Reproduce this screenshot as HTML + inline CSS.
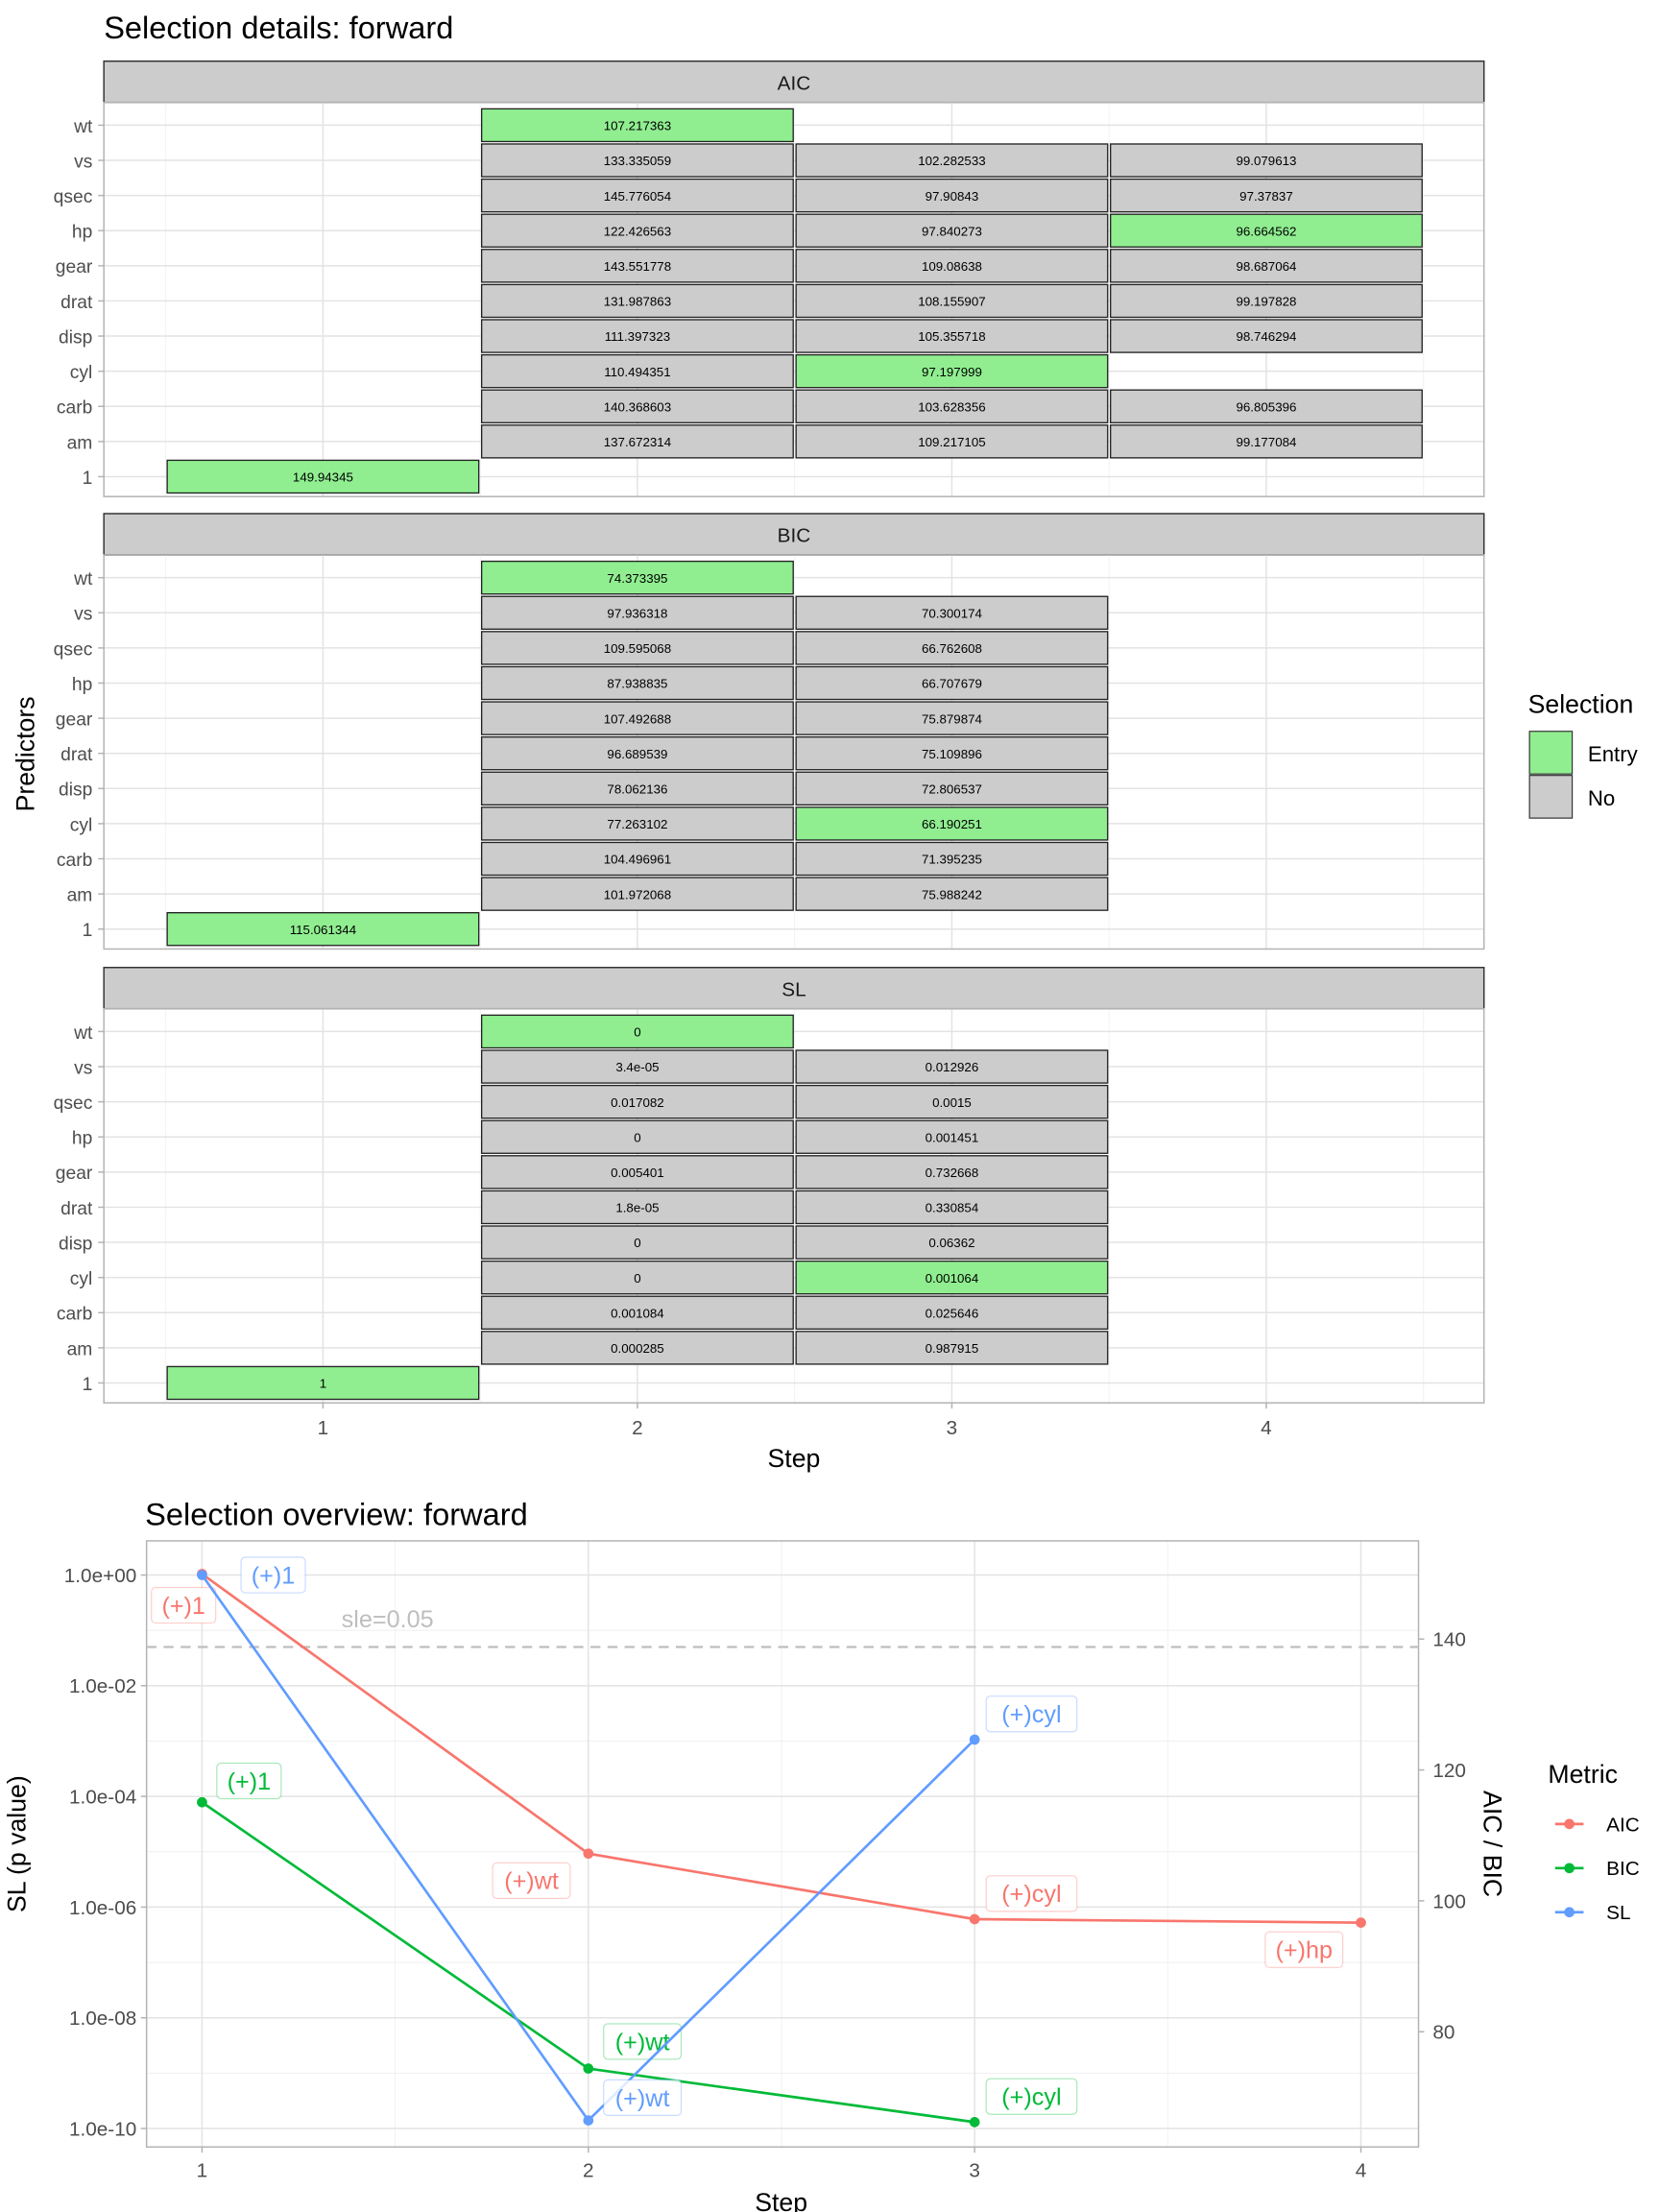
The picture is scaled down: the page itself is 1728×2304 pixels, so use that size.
<!DOCTYPE html>
<html><head><meta charset="utf-8"><style>
html,body{margin:0;padding:0;background:#fff;}
svg{display:block;font-family:"Liberation Sans",sans-serif;}
</style></head><body>
<svg id="root" xmlns="http://www.w3.org/2000/svg" width="1728" height="2304" viewBox="0 0 1166 1554.7">
<rect width="1166" height="1554.7" fill="#fff"/>
</svg>
<script>
// ---------- data: selection details ----------
const predictors = ["wt","vs","qsec","hp","gear","drat","disp","cyl","carb","am"];
const rowLevels = ["1","am","carb","cyl","disp","drat","gear","hp","qsec","vs","wt"];
const aicStep1 = 149.94345;
const aicStep2 = [107.217363,133.335059,145.776054,122.426563,143.551778,131.987863,111.397323,110.494351,140.368603,137.672314];
const aicStep3 = [null,102.282533,97.90843,97.840273,109.08638,108.155907,105.355718,97.197999,103.628356,109.217105];
const aicStep4 = [null,99.079613,97.37837,96.664562,98.687064,99.197828,98.746294,null,96.805396,99.177084];
const aicEntry = ["1","wt","cyl","hp"];
const bicStep1 = 115.061344;
const bicStep2 = [74.373395,97.936318,109.595068,87.938835,107.492688,96.689539,78.062136,77.263102,104.496961,101.972068];
const bicStep3 = [null,70.300174,66.762608,66.707679,75.879874,75.109896,72.806537,66.190251,71.395235,75.988242];
const bicEntry = ["1","wt","cyl"];
const slStep1 = 1;
const slStep2 = [0,3.4e-05,0.017082,0,0.005401,1.8e-05,0,0,0.001084,0.000285];
const slStep3 = [null,0.012926,0.0015,0.001451,0.732668,0.330854,0.06362,0.001064,0.025646,0.987915];
const slEntry = ["1","wt","cyl"];
const stepTicks = [1,2,3,4];

// ---------- data: overview ----------
const ovSteps = [1,2,3,4];
const aicLine = [149.94345,107.217363,97.197999,96.664562];
const bicLine = [115.061344,74.373395,66.190251];
const slLine = [1,1.4e-10,0.001064];
const aicLabels = ["(+)1","(+)wt","(+)cyl","(+)hp"];
const bicLabels = ["(+)1","(+)wt","(+)cyl"];
const slLabels = ["(+)1","(+)wt","(+)cyl"];
const leftTicks = [0,-2,-4,-6,-8,-10];
const leftTickLabels = ["1.0e+00","1.0e-02","1.0e-04","1.0e-06","1.0e-08","1.0e-10"];
const rightTicks = [80,100,120,140];
const sle = 0.05;

const NS="http://www.w3.org/2000/svg";
const root=document.getElementById('root');
function mk(tag,attrs,parent,text){const e=document.createElementNS(NS,tag);for(const k in attrs)e.setAttribute(k,attrs[k]);if(text!==undefined)e.textContent=text;(parent||root).appendChild(e);return e;}
function fmt(v){if(v!==0&&Math.abs(v)<1e-4){let s=v.toExponential();let m=s.split('e');let ex=parseInt(m[1]);return m[0]+'e'+(ex<0?'-':'+')+String(Math.abs(ex)).padStart(2,'0');}return String(v);}

// ---------- top chart ----------
const t1=mk('text',{x:73,y:27,'font-size':22,fill:'#000'},root,'Selection details: forward');


const PX0=73,PX1=1043;
function xs(s){return 227+(s-1)*221;}
const facets=[
 {name:'AIC',top:43,s1:aicStep1,steps:[aicStep2,aicStep3,aicStep4],entry:aicEntry},
 {name:'BIC',top:361,s1:bicStep1,steps:[bicStep2,bicStep3],entry:bicEntry},
 {name:'SL',top:680,s1:slStep1,steps:[slStep2,slStep3],entry:slEntry}
];
facets.forEach(f=>{
 const g=mk('g',{});
 
 
 const strip=mk('rect',{x:PX0,y:f.top,width:PX1-PX0,height:29,fill:'#cccccc',stroke:'#333',"stroke-width":1},g);
 
 
 mk('text',{x:(PX0+PX1)/2,y:f.top+20,'text-anchor':'middle','font-size':14,fill:'#1a1a1a'},g,f.name);
 const pt=f.top+29, pb=pt+277;
 const ys=r=>pb-14-r*24.7;
 // grid
 [0.5,1.5,2.5,3.5,4.5].forEach(s=>mk('line',{x1:xs(s),x2:xs(s),y1:pt,y2:pb,stroke:'#f0f0f0','stroke-width':0.6},g));
 stepTicks.forEach(s=>mk('line',{x1:xs(s),x2:xs(s),y1:pt,y2:pb,stroke:'#e3e3e3','stroke-width':1},g));
 rowLevels.forEach((lv,r)=>{
  mk('line',{x1:PX0,x2:PX1,y1:ys(r),y2:ys(r),stroke:'#e3e3e3','stroke-width':1},g);
  mk('line',{x1:PX0-4,x2:PX0,y1:ys(r),y2:ys(r),stroke:'#b3b3b3','stroke-width':1},g);
  const tl=mk('text',{x:PX0-8,y:ys(r)+5,'text-anchor':'end','font-size':13,fill:'#4d4d4d'},g,lv);
  
  
 });
 mk('rect',{x:PX0,y:pt,width:PX1-PX0,height:277,fill:'none',stroke:'#b3b3b3','stroke-width':1},g);
 function tile(step,pred,val){
  const r=rowLevels.indexOf(pred);
  const ent=f.entry[step-1]===pred;
  const rc=mk('rect',{x:xs(step)-109.5,y:ys(r)-11.5,width:219,height:23,fill:ent?'#90ee90':'#cccccc',stroke:'#222','stroke-width':0.9},g);
  
  
  mk('text',{x:xs(step),y:ys(r)+3.5,'text-anchor':'middle','font-size':9,fill:'#000'},g,fmt(val));
 }
 tile(1,'1',f.s1);
 f.steps.forEach((arr,i)=>arr.forEach((v,j)=>{if(v!==null)tile(i+2,predictors[j],v);}));
});
stepTicks.forEach(s=>{
 mk('line',{x1:xs(s),x2:xs(s),y1:986,y2:990,stroke:'#b3b3b3'});
 const t=mk('text',{x:xs(s),y:1008,'text-anchor':'middle','font-size':14,fill:'#4d4d4d'},root,String(s));
 
 
});
const xt=mk('text',{x:558,y:1031,'text-anchor':'middle','font-size':18,fill:'#000'},root,'Step');


const yt=mk('text',{x:24,y:530,'text-anchor':'middle','font-size':18,fill:'#000',transform:'rotate(-90 24 530)'},root,'Predictors');


// selection legend
const lg=mk('g',{});


mk('text',{x:1074,y:501,'font-size':18,fill:'#000'},lg,'Selection');
mk('rect',{x:1075,y:514,width:30,height:30,fill:'#90ee90',stroke:'#333','stroke-width':0.8},lg);
mk('rect',{x:1075,y:545,width:30,height:30,fill:'#cccccc',stroke:'#333','stroke-width':0.8},lg);
mk('text',{x:1116,y:535,'font-size':15,fill:'#000'},lg,'Entry');
mk('text',{x:1116,y:566,'font-size':15,fill:'#000'},lg,'No');

// ---------- bottom chart ----------
const t2=mk('text',{x:102,y:1072,'font-size':22,fill:'#000'},root,'Selection overview: forward');


const BX0=103,BX1=997,BY0=1083,BY1=1509;
const bx=s=>142+(s-1)*271.5;
const yL=p=>1107-Math.log10(p)*38.9;
const yR=v=>1152-(v-140)*4.6;
const bg=mk('g',{});


[1.5,2.5,3.5].forEach(s=>mk('line',{x1:bx(s),x2:bx(s),y1:BY0,y2:BY1,stroke:'#f0f0f0','stroke-width':0.6},bg));
for(let d=0;d>=-10;d--){mk('line',{x1:BX0,x2:BX1,y1:yL(Math.pow(10,d)),y2:yL(Math.pow(10,d)),stroke:d%2===0?'#e3e3e3':'#f0f0f0','stroke-width':d%2===0?1:0.7},bg);}
ovSteps.forEach(s=>mk('line',{x1:bx(s),x2:bx(s),y1:BY0,y2:BY1,stroke:'#e3e3e3','stroke-width':1},bg));
mk('rect',{x:BX0,y:BY0,width:BX1-BX0,height:BY1-BY0,fill:'none',stroke:'#b3b3b3','stroke-width':1},bg);
leftTicks.forEach((d,i)=>{
 const y=yL(Math.pow(10,d));
 mk('line',{x1:BX0-4,x2:BX0,y1:y,y2:y,stroke:'#b3b3b3'});
 const t=mk('text',{x:BX0-7,y:y+5,'text-anchor':'end','font-size':14,fill:'#4d4d4d'},root,leftTickLabels[i]);
 
 
});
rightTicks.forEach(v=>{
 const y=yR(v);
 mk('line',{x1:BX1,x2:BX1+4,y1:y,y2:y,stroke:'#b3b3b3'});
 const t=mk('text',{x:BX1+10,y:y+5,'font-size':14,fill:'#4d4d4d'},root,String(v));
 
 
});
ovSteps.forEach(s=>{
 mk('line',{x1:bx(s),x2:bx(s),y1:BY1,y2:BY1+4,stroke:'#b3b3b3'});
 const t=mk('text',{x:bx(s),y:1530,'text-anchor':'middle','font-size':14,fill:'#4d4d4d'},root,String(s));
 
 
});
const sy=yL(sle);
const sl=mk('line',{x1:BX0,x2:BX1,y1:sy,y2:sy,stroke:'#bebebe','stroke-width':1.5,'stroke-dasharray':'7,5'});


mk('text',{x:240,y:sy-14,'font-size':17,fill:'#bebebe'},root,'sle=0.05');

const series=[
 {name:'aic',col:'#F8766D',vals:aicLine,y:yR,labels:aicLabels,off:[[-13,22],[-40,19],[40,-18],[-40,19]]},
 {name:'bic',col:'#00BA38',vals:bicLine,y:yR,labels:bicLabels,off:[[33,-15],[38,-19],[40,-18]]},
 {name:'sl',col:'#619CFF',vals:slLine,y:yL,labels:slLabels,off:[[50,0],[38,-16],[40,-18]]}
];
series.forEach(s=>{
 const g=mk('g',{});
 
 
 const pts=s.vals.map((v,i)=>[bx(ovSteps[i]),s.y(v)]);
 const ln=mk('polyline',{points:pts.map(p=>p.join(',')).join(' '),fill:'none',stroke:s.col,'stroke-width':1.8},g);
 
 
 pts.forEach((p,i)=>{
  const c=mk('circle',{cx:p[0],cy:p[1],r:3.6,fill:s.col},g);
  
  
  const lx=p[0]+s.off[i][0], ly=p[1]+s.off[i][1];
  const w=s.labels[i].length*9.3+8;
  const lb=mk('g',{},g);
  
  
  mk('rect',{x:lx-w/2,y:ly-12.5,width:w,height:25,rx:3,fill:'#fff','fill-opacity':0.8,stroke:s.col,'stroke-opacity':0.35,'stroke-width':0.8},lb);
  mk('text',{x:lx,y:ly+6,'text-anchor':'middle','font-size':17,fill:s.col},lb,s.labels[i]);
 });
});
const lt=mk('text',{x:18,y:1296,'text-anchor':'middle','font-size':18,fill:'#000',transform:'rotate(-90 18 1296)'},root,'SL (p value)');


const rt=mk('text',{x:1043,y:1296,'text-anchor':'middle','font-size':18,fill:'#000',transform:'rotate(90 1043 1296)'},root,'AIC / BIC');


const xb=mk('text',{x:549,y:1554,'text-anchor':'middle','font-size':18,fill:'#000'},root,'Step');


const ml=mk('g',{});


mk('text',{x:1088,y:1253,'font-size':18,fill:'#000'},ml,'Metric');
[['AIC','#F8766D'],['BIC','#00BA38'],['SL','#619CFF']].forEach((e,i)=>{
 const y=1282+i*31;
 const en=mk('g',{},ml);
 
 
 mk('line',{x1:1093,x2:1113,y1:y,y2:y,stroke:e[1],'stroke-width':1.8},en);
 mk('circle',{cx:1103,cy:y,r:3.6,fill:e[1]},en);
 mk('text',{x:1129,y:y+5,'font-size':14,fill:'#000'},en,e[0]);
});
</script>
</body></html>
